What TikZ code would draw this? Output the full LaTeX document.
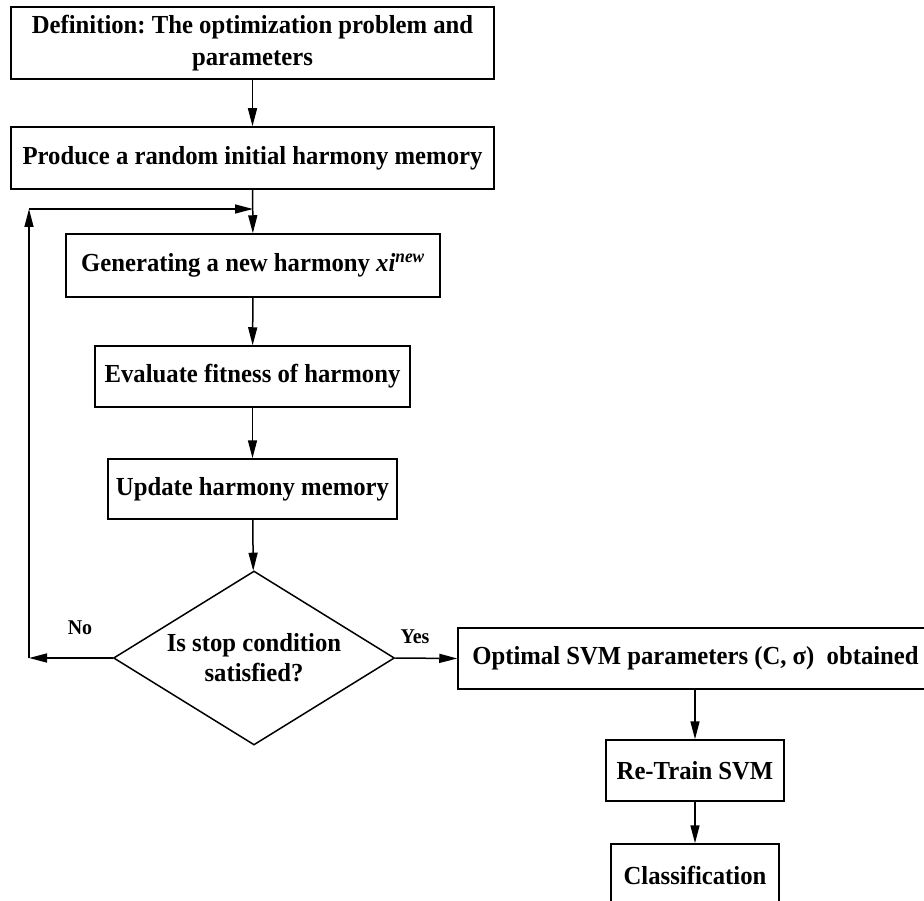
\documentclass[tikz,border=0pt]{standalone}
\usepackage{fontspec}
\setmainfont{Liberation Serif}[FakeStretch=0.95]
\usetikzlibrary{shapes.geometric,arrows.meta}
\frenchspacing
\begin{document}
\begin{tikzpicture}[x=1pt,y=-1pt,
  box/.style={draw,line width=1.5pt,rectangle,inner sep=0pt,align=center,
    font=\fontsize{26}{32}\selectfont\bfseries},
  arr/.style={line width=1.5pt,-{Triangle[length=18pt,width=9pt]}},
  lbl/.style={font=\fontsize{21}{24}\selectfont\bfseries,inner sep=0pt}]
\useasboundingbox (0,0) rectangle (924,901);
\clip (0,0) rectangle (924,901);
\node[box,minimum width=483pt,minimum height=72pt] (b1) at (252.5,43)
  {Definition: The optimization problem and\\parameters};
\node[box,minimum width=483pt,minimum height=62pt] (b2) at (252.5,158)
  {Produce a random initial harmony memory};
\node[box,minimum width=374pt,minimum height=63pt] (b3) at (253,265.5)
  {Generating a new harmony \textit{xi}\textsuperscript{\textit{new}}};
\node[box,minimum width=315pt,minimum height=61pt] (b4) at (252.5,376.5)
  {Evaluate fitness of harmony};
\node[box,minimum width=289pt,minimum height=60pt] (b5) at (252.5,489)
  {Update harmony memory};
\node[draw,line width=1.5pt,diamond,aspect=1.615,inner sep=0pt,
  minimum width=281pt,minimum height=174pt,align=center,
  font=\fontsize{26}{30}\selectfont\bfseries] (d) at (254,658)
  {Is stop condition\\satisfied?};
\node[box,minimum width=475pt,minimum height=61pt] (b6) at (695.5,658.5)
  {Optimal SVM parameters (C, σ)\ \ obtained};
\node[box,minimum width=178pt,minimum height=61pt] (b7) at (695,770.5)
  {Re-Train SVM};
\node[box,minimum width=168pt,minimum height=62pt] (b8) at (695,875)
  {Classification};
\coordinate (c1) at (29,658);
\coordinate (c2) at (29,209);
\coordinate (c3) at (253,209);
\draw[arr] (b1) -- (b2);
\draw[arr] (b2) -- (b3);
\draw[arr] (b3) -- (b4);
\draw[arr] (b4) -- (b5);
\draw[arr] (b5) -- (d);
\draw[arr] (d.west) -- (c1);
\draw[arr] (c1) -- (c2);
\draw[arr] (c2) -- (c3);
\draw[arr] (d.east) -- (b6.west);
\draw[arr] (b6.south -| b7) -- (b7);
\draw[arr] (b7) -- (b8);
\node[lbl] (no) at (80,628) {No};
\node[lbl] (yes) at (415,637) {Yes};
\end{tikzpicture}
\end{document}
